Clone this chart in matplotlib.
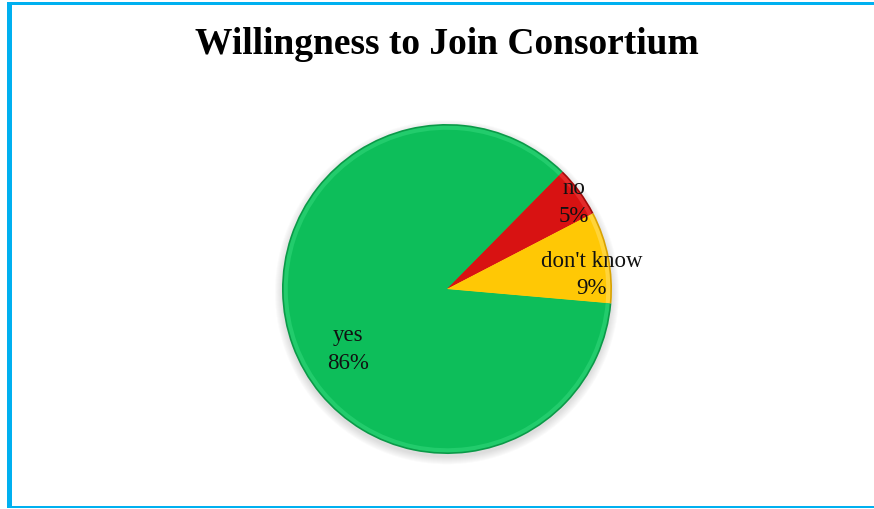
import numpy as np
import matplotlib.pyplot as plt
from matplotlib.patches import Rectangle, Circle

# survey answers, drawn clockwise starting just below 3 o'clock
categories = ['yes', 'no', "don't know"]
shares = [86, 5, 9]

colors = ['#0dbe5a', '#d81212', '#ffc805']
rim_colors = ['#0a9a48', '#a00a0a', '#d9a200']
light_colors = ['#22cc6c', '#e42a2a', '#ffd43a']

# label anchor points in pie units (Excel "best fit" placement)
label_xy = [(-0.60, -0.36), (0.77, 0.53), (0.875, 0.09)]

fig = plt.figure(figsize=(8.74, 5.10), dpi=100)
fig.patch.set_facecolor('white')

ax = fig.add_axes([282 / 874, 55 / 510, 330 / 874, 330 / 510])
ax.set_xlim(-1, 1)
ax.set_ylim(-1, 1)
ax.set_aspect('equal')
ax.axis('off')

# soft drop shadow under the pie
for i in range(8):
    ax.add_patch(Circle((0.0, -0.02), 1.0 + 0.006 * i, color='#7a7a7a',
                        alpha=0.03, zorder=0, lw=0, clip_on=False))

# darker rim, faint bevel band, then the face of each slice
ax.pie(shares, colors=rim_colors, startangle=-5, counterclock=False,
       radius=1.0, wedgeprops=dict(lw=0, clip_on=False), frame=False)
ax.pie(shares, colors=light_colors, startangle=-5, counterclock=False,
       radius=0.99, wedgeprops=dict(lw=0, clip_on=False), frame=False)
ax.pie(shares, colors=colors, startangle=-5, counterclock=False,
       radius=0.965, wedgeprops=dict(lw=0, clip_on=False), frame=False)

ax.set_xlim(-1.0, 1.0)
ax.set_ylim(-1.0, 1.0)

for cat, val, (x, y) in zip(categories, shares, label_xy):
    ax.text(x, y, f'{cat}\n{val}%', ha='center', va='center',
            fontsize=16.5, family='Liberation Serif', linespacing=1.4,
            color='#111111', zorder=10)

fig.text(447 / 874, 1 - 45 / 510, 'Willingness to Join Consortium',
         ha='center', va='center', fontsize=27, fontweight='bold',
         family='Liberation Serif')

# blue chart frame (left, top, bottom)
blue = '#00b0f0'
W, H = 874, 510
fig.add_artist(Rectangle((7 / W, 1 - 509 / H), 5 / W, 506 / H,
                         transform=fig.transFigure, color=blue, lw=0))
fig.add_artist(Rectangle((7 / W, 1 - 6 / H), 867 / W, 3 / H,
                         transform=fig.transFigure, color=blue, lw=0))
fig.add_artist(Rectangle((7 / W, 1 - 509 / H), 867 / W, 2 / H,
                         transform=fig.transFigure, color=blue, lw=0))

fig.savefig('out.png', dpi=100)
